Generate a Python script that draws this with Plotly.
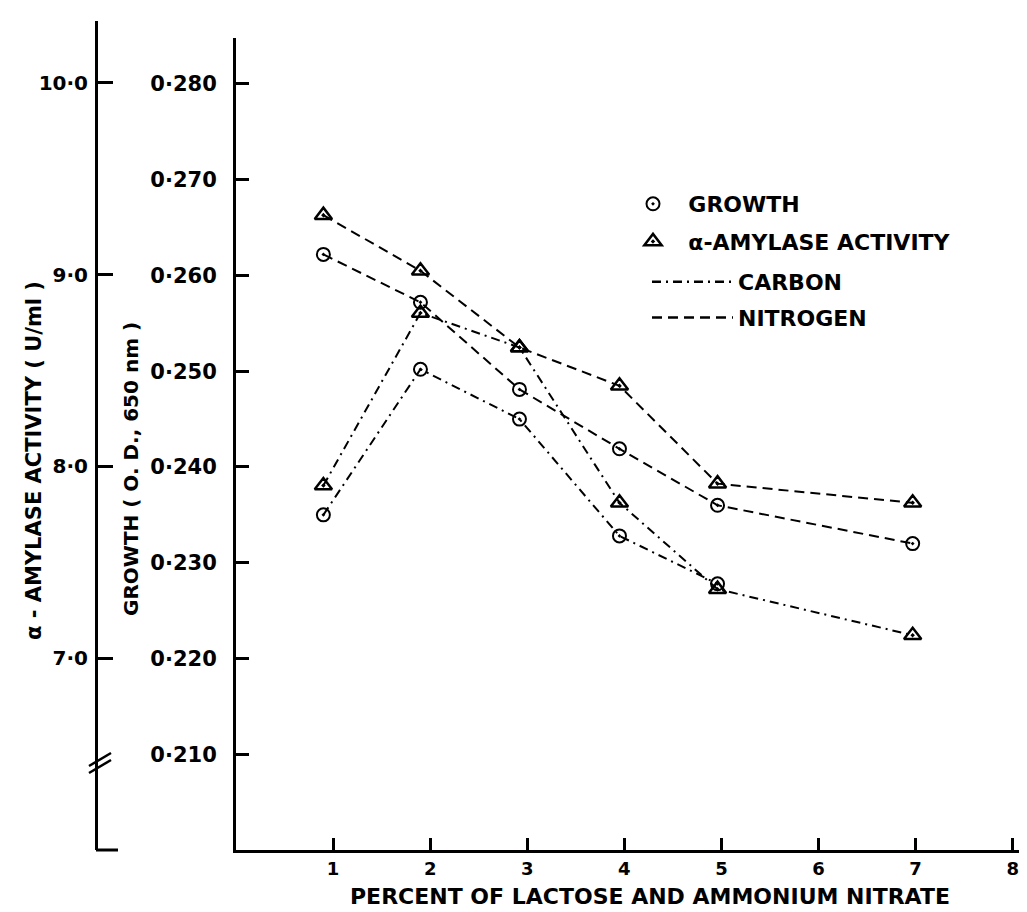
import plotly.graph_objects as go

# ---- data ----
pct = [0.9, 1.9, 2.92, 3.95, 4.96, 6.97]           # percent of lactose / ammonium nitrate
growth_nitrogen = [0.2622, 0.2572, 0.2481, 0.2419, 0.2360, 0.2320]
growth_carbon = [0.2350, 0.2502, 0.2450, 0.2328, 0.2278]
amylase_nitrogen = [9.31, 9.02, 8.62, 8.42, 7.91, 7.81]
amylase_carbon = [7.90, 8.80, 8.62, 7.81, 7.36, 7.12]

x_ticks = [1, 2, 3, 4, 5, 6, 7, 8]
growth_ticks = [0.210, 0.220, 0.230, 0.240, 0.250, 0.260, 0.270, 0.280]
growth_ticktext = ["0·210", "0·220", "0·230", "0·240", "0·250", "0·260", "0·270", "0·280"]
amylase_ticks = [7.0, 8.0, 9.0, 10.0]
amylase_ticktext = ["7·0", "8·0", "9·0", "10·0"]

FONT = "DejaVu Sans"
BLACK = "black"
W, H = 1027, 912
circle_marker = dict(symbol="circle-open-dot", size=13, color=BLACK, line=dict(width=2, color=BLACK))
tri_marker = dict(symbol="triangle-up-open-dot", size=15, color=BLACK, line=dict(width=2.5, color=BLACK))
DASH = "10px,6px"
DASHDOT = "9px,5px,2px,5px"
NB = "\u00a0"

fig = go.Figure()
fig.add_trace(go.Scatter(x=pct, y=growth_nitrogen, mode="lines+markers", yaxis="y",
                         line=dict(color=BLACK, width=2, dash=DASH), marker=circle_marker, showlegend=False))
fig.add_trace(go.Scatter(x=pct[:len(growth_carbon)], y=growth_carbon, mode="lines+markers", yaxis="y",
                         line=dict(color=BLACK, width=2, dash=DASHDOT), marker=circle_marker, showlegend=False))
fig.add_trace(go.Scatter(x=pct, y=amylase_nitrogen, mode="lines+markers", yaxis="y2",
                         line=dict(color=BLACK, width=2, dash=DASH), marker=tri_marker, showlegend=False))
fig.add_trace(go.Scatter(x=pct, y=amylase_carbon, mode="lines+markers", yaxis="y2",
                         line=dict(color=BLACK, width=2, dash=DASHDOT), marker=tri_marker, showlegend=False))

# legend entries: symbols in one legend, line styles in another
fig.add_trace(go.Scatter(x=[None], y=[None], mode="markers", marker=circle_marker, name=NB * 2 + "GROWTH",
                         legendgroup="a", legend="legend"))
fig.add_trace(go.Scatter(x=[None], y=[None], mode="markers", marker=tri_marker,
                         name=NB * 2 + "α-AMYLASE ACTIVITY", legendgroup="b", legend="legend"))
fig.add_trace(go.Scatter(x=[None], y=[None], mode="lines", line=dict(color=BLACK, width=2.5, dash=DASHDOT),
                         name="CARBON", legendgroup="c", legend="legend2"))
fig.add_trace(go.Scatter(x=[None], y=[None], mode="lines", line=dict(color=BLACK, width=2.5, dash=DASH),
                         name="NITROGEN", legendgroup="d", legend="legend2"))

top, bottom = 13, 842
ph = bottom - top
x0_px = 228
inner_top = 30
LEG_FONT = dict(size=22, family=FONT, color=BLACK, weight="bold")

fig.update_layout(
    width=W, height=H,
    margin=dict(l=0, r=0, t=top, b=H - bottom),
    paper_bgcolor="white", plot_bgcolor="rgba(0,0,0,0)",
    font=dict(family=FONT, size=20, color=BLACK, weight="bold"),
    showlegend=True,
    legend=dict(x=625 / W, xanchor="left", y=(bottom - 175) / ph, yanchor="top",
                bgcolor="rgba(0,0,0,0)", font=LEG_FONT,
                traceorder="grouped", tracegroupgap=6, itemwidth=30),
    legend2=dict(x=639 / W, xanchor="left", y=(bottom - 253) / ph, yanchor="top",
                 bgcolor="rgba(0,0,0,0)", font=LEG_FONT,
                 traceorder="grouped", tracegroupgap=4, itemwidth=81),
    xaxis=dict(domain=[x0_px / W, 1], range=[0, 8.23], tickvals=x_ticks,
               ticks="inside", ticklen=12, tickwidth=2.5, tickcolor=BLACK,
               showline=True, linewidth=3, linecolor=BLACK, showgrid=False, zeroline=False,
               tickfont=dict(size=18, family=FONT, weight="bold"), anchor="y"),
    yaxis=dict(domain=[0, (bottom - inner_top) / ph], range=[0.200, 0.2848],
               tickvals=growth_ticks, ticktext=growth_ticktext,
               ticks="inside", ticklen=13, tickwidth=2.5, tickcolor=BLACK,
               showline=True, linewidth=3, linecolor=BLACK, showgrid=False, zeroline=False,
               tickfont=dict(size=21, family=FONT, weight="bold"), anchor="x", ticklabelstandoff=12),
    yaxis2=dict(domain=[0, 1], range=[6.0, 6.0 + ph / 191.8],
                tickvals=amylase_ticks, ticktext=amylase_ticktext,
                ticks="inside", ticklen=15, tickwidth=2.5, tickcolor=BLACK,
                showline=True, linewidth=3, linecolor=BLACK, showgrid=False, zeroline=False,
                tickfont=dict(size=20, family=FONT, weight="bold"), anchor="free", position=88 / W,
                ticklabelstandoff=3),
)

# axis titles
fig.add_annotation(text="α - AMYLASE ACTIVITY ( U/ml )", textangle=-90, xref="paper", yref="paper",
                   x=26 / W, y=(bottom - 453) / ph, xanchor="center", yanchor="middle", showarrow=False,
                   font=dict(size=21, family=FONT, weight="bold"))
fig.add_annotation(text="GROWTH ( O. D., 650 nm )", textangle=-90, xref="paper", yref="paper",
                   x=123 / W, y=(bottom - 461) / ph, xanchor="center", yanchor="middle", showarrow=False,
                   font=dict(size=20, family=FONT, weight="bold"))
fig.add_annotation(text="PERCENT OF LACTOSE AND AMMONIUM NITRATE", xref="paper", yref="paper",
                   x=642 / W, y=(bottom - 888) / ph, xanchor="center", yanchor="middle", showarrow=False,
                   font=dict(size=22, family=FONT, weight="bold"))

# axis break marks and foot of the outer axis
for dy in (0, 7):
    fig.add_shape(type="line", xref="paper", yref="paper",
                  x0=81 / W, x1=103 / W, y0=(bottom - 765 + dy) / ph, y1=(bottom - 752 + dy) / ph,
                  line=dict(color=BLACK, width=2.5))
fig.add_shape(type="line", xref="paper", yref="paper", x0=88 / W, x1=110 / W, y0=0, y1=0,
              line=dict(color=BLACK, width=3))

fig.write_html("out.html")
